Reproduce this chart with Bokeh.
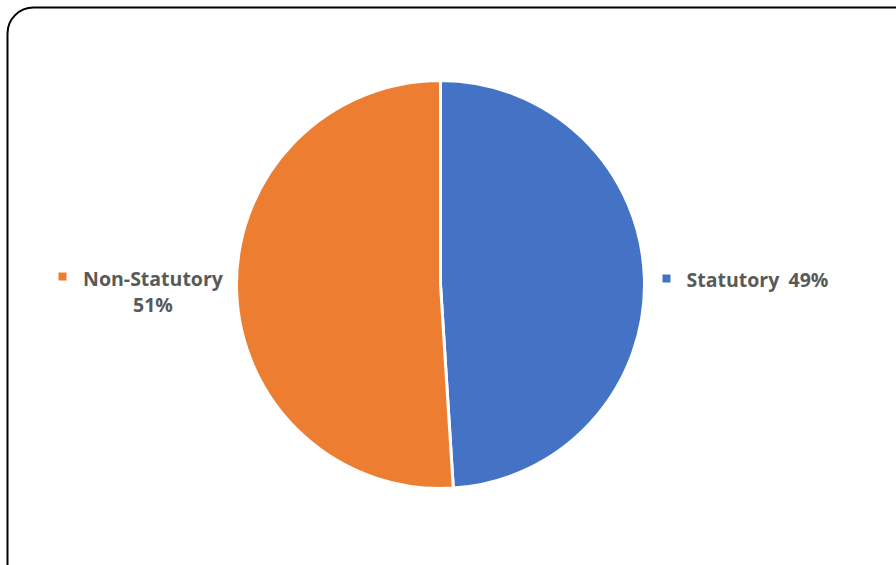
from bokeh.plotting import figure
from bokeh.models import Range1d, BoxAnnotation, ColumnDataSource
from bokeh.core.properties import value
from bokeh.embed import file_html
from bokeh.resources import INLINE
import math

# ---- data ----
categories = ["Statutory", "Non-Statutory"]
shares = [49, 51]
colors = ["#4472C4", "#ED7D31"]
pct_labels = ["49%", "51%"]

W, H = 896, 565

def py(y):  # page y -> data y
    return H - y

p = figure(width=W, height=H, output_backend="svg", toolbar_location=None,
           x_range=Range1d(0, W), y_range=Range1d(0, H), min_border=0)
p.axis.visible = False
p.grid.visible = False
p.outline_line_color = None
p.background_fill_color = "white"
p.border_fill_color = "white"

# pie wedges (clockwise from top)
total = sum(shares)
starts, ends = [], []
a = math.pi / 2
for s in shares:
    e = a - s / total * 2 * math.pi
    starts.append(a)
    ends.append(e)
    a = e
src = ColumnDataSource(dict(cat=categories, start=starts, end=ends, color=colors))
cx, cy, R = 440, py(284), 204
p.wedge(x=cx, y=cy, radius=R, start_angle="start", end_angle="end",
        direction="clock", fill_color="color", line_color="white",
        line_width=3, source=src)

# labels
font = value("Open Sans")
txt_col = "#595959"
fs = "19.5px"
# Statutory
p.scatter(x=[666], y=[py(278)], marker="square", size=8,
          fill_color=colors[0], line_color=None)
p.text(x=[686], y=[py(279)], text=[categories[0]], text_font=font,
       text_font_style="bold", text_font_size=fs, text_color=txt_col,
       text_align="left", text_baseline="middle")
p.text(x=[788], y=[py(279)], text=[pct_labels[0]], text_font=font,
       text_font_style="bold", text_font_size=fs, text_color=txt_col,
       text_align="left", text_baseline="middle")
# Non-Statutory
p.scatter(x=[62], y=[py(276)], marker="square", size=8,
          fill_color=colors[1], line_color=None)
p.text(x=[152.5], y=[py(278)], text=[categories[1]], text_font=font,
       text_font_style="bold", text_font_size=fs, text_color=txt_col,
       text_align="center", text_baseline="middle")
p.text(x=[152.5], y=[py(304)], text=[pct_labels[1]], text_font=font,
       text_font_style="bold", text_font_size=fs, text_color=txt_col,
       text_align="center", text_baseline="middle")

# rounded chart border
box = BoxAnnotation(left=7, right=3000, top=py(7), bottom=-3000,
                    fill_alpha=0, line_color="black", line_alpha=1.0,
                    line_width=2, border_radius=26)
p.add_layout(box)

open("out.html", "w").write(file_html(p, INLINE))
